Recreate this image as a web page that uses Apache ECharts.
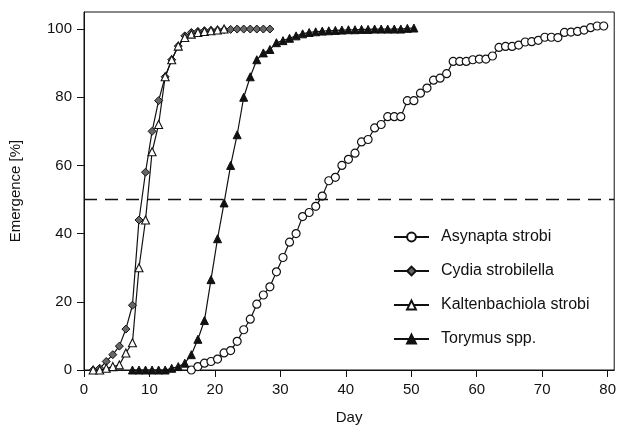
<!DOCTYPE html>
<html>
<head>
<meta charset="utf-8">
<script src="https://cdn.jsdelivr.net/npm/echarts@6/dist/echarts.min.js"></script>
<style>
html, body { margin: 0; padding: 0; background: #fff; }
#chart { width: 619px; height: 430px; }
</style>
</head>
<body>
<div id="chart"></div>
<script>
// tick labels
var xTicks = [0, 10, 20, 30, 40, 50, 60, 70, 80];
var yTicks = [0, 20, 40, 60, 80, 100];

// series names
var names = ['Asynapta strobi', 'Cydia strobilella', 'Kaltenbachiola strobi', 'Torymus spp.'];

// day of the first point of each series (points sit a bit right of whole days
// in the picture), then one point per day
var asynaptaStart = 16.4;
var cydiaStart = 1.4;
var kaltenStart = 1.4;
var torymusStart = 7.4;

// cumulative emergence [%]
var asynapta = [0, 1, 2, 2.5, 3.2, 5, 5.7, 8.4, 11.8, 14.9,
  19.3, 22, 24.4, 28.8, 33, 37.5, 40, 45, 46.2, 48,
  51, 55.5, 56.5, 60, 61.8, 63.6, 66.9, 67.6, 71, 72,
  74.3, 74.3, 74.3, 79, 79, 81.2, 82.7, 85, 85.6, 86.9,
  90.5, 90.5, 90.5, 91, 91.2, 91.2, 92.1, 94.6, 94.9, 94.9,
  95.3, 96.2, 96.3, 96.7, 97.6, 97.6, 97.5, 99, 99.1, 99.3,
  99.7, 100.4, 100.9, 100.9];
var cydia = [0, 0.5, 2.5, 4.5, 7, 12, 19, 44, 58, 70,
  79, 86, 91, 95, 98, 99, 99.3, 99.5, 99.6, 99.7,
  99.8, 99.9, 100, 100, 100, 100, 100, 100];
var kalten = [0, 0, 0.5, 1, 1.5, 5, 8, 30, 44, 64,
  72, 86, 91, 95, 97.5, 98.5, 99, 99.3, 99.5, 99.7, 100];
var torymus = [0, 0, 0, 0, 0, 0, 0.5, 1, 2, 4.5,
  9, 14.5, 26.5, 38.5, 49, 60, 69, 80, 86, 91,
  93, 94, 96, 96.6, 97.3, 98, 98.6, 99, 99.2, 99.4,
  99.5, 99.6, 99.7, 99.8, 99.8, 99.9, 99.9, 100, 100, 100,
  100, 100, 100.2, 100.3];

function pairs(start, vals) {
  return vals.map(function (v, i) { return [start + i, v]; });
}

var myChart = echarts.init(document.getElementById('chart'));

var font = 'Liberation Sans, Arial, sans-serif';
var ink = '#111';

var option = {
  animation: false,
  backgroundColor: '#fff',
  textStyle: { fontFamily: font, color: ink },
  grid: {
    left: 84, right: 4, top: 12, bottom: 58,
    show: true, borderColor: ink, borderWidth: 1
  },
  legend: {
    orient: 'vertical',
    left: 388, top: 224,
    itemWidth: 35, itemHeight: 11, itemGap: 18,
    textStyle: { fontFamily: font, fontSize: 16, color: ink, padding: [0, 0, 0, 7] },
    data: names
  },
  xAxis: {
    type: 'value', min: 0, max: 81,
    name: 'Day', nameLocation: 'middle', nameGap: 40,
    nameTextStyle: { fontFamily: font, fontSize: 15, color: ink },
    axisLine: { lineStyle: { color: ink, width: 1 } },
    axisTick: { length: 7, lineStyle: { color: ink }, customValues: xTicks },
    axisLabel: { fontFamily: font, fontSize: 15, color: ink, margin: 12, customValues: xTicks },
    splitLine: { show: false }
  },
  yAxis: {
    type: 'value', min: 0, max: 105,
    name: 'Emergence [%]', nameLocation: 'middle', nameGap: 61,
    nameTextStyle: { fontFamily: font, fontSize: 15, color: ink },
    axisLine: { show: true, lineStyle: { color: ink, width: 1 } },
    axisTick: { show: true, length: 7, lineStyle: { color: ink }, customValues: yTicks },
    axisLabel: { fontFamily: font, fontSize: 15, color: ink, margin: 12, customValues: yTicks },
    splitLine: { show: false }
  },
  series: [{
    name: names[0], type: 'line',
    data: pairs(asynaptaStart, asynapta),
    symbol: 'circle', symbolSize: 8,
    itemStyle: { color: '#fff', borderColor: ink, borderWidth: 1.2 },
    lineStyle: { color: ink, width: 1.2 },
    markLine: {
      silent: true, symbol: 'none',
      label: { show: false },
      lineStyle: { color: ink, width: 1.3, type: [13, 8] },
      data: [{ yAxis: 50 }]
    }
  }, {
    name: names[1], type: 'line',
    data: pairs(cydiaStart, cydia),
    symbol: 'diamond', symbolSize: 8,
    itemStyle: { color: '#666', borderColor: ink, borderWidth: 1 },
    lineStyle: { color: ink, width: 1.2 }
  }, {
    name: names[2], type: 'line',
    data: pairs(kaltenStart, kalten),
    symbol: 'triangle', symbolSize: 8,
    itemStyle: { color: '#fff', borderColor: ink, borderWidth: 1.1 },
    lineStyle: { color: ink, width: 1.2 }
  }, {
    name: names[3], type: 'line',
    data: pairs(torymusStart, torymus),
    symbol: 'triangle', symbolSize: 8,
    itemStyle: { color: ink, borderColor: ink, borderWidth: 1 },
    lineStyle: { color: ink, width: 1.2 }
  }]
};

myChart.setOption(option);
</script>
</body>
</html>
